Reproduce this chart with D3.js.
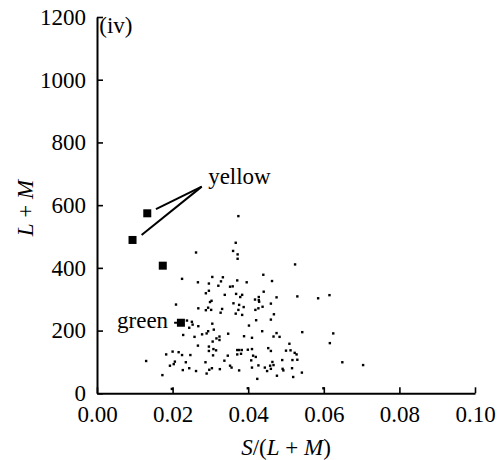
<!DOCTYPE html>
<html>
<head>
<meta charset="utf-8">
<script src="https://cdn.jsdelivr.net/npm/d3@7"></script>
<style>
  html, body { margin: 0; padding: 0; background: #fff; }
  svg { display: block; }
  svg text { font-family: "Liberation Serif", "Times New Roman", serif !important; fill: #000; }
</style>
</head>
<body>
<svg id="chart" width="500" height="460"></svg>
<script>
// ---- data ----
const xTicks = [0, 0.02, 0.04, 0.06, 0.08, 0.10];
const yTicks = [0, 200, 400, 600, 800, 1000, 1200];

// small dots: S/(L+M) and L+M
const dotSX = [
  0.0262,0.0225,0.0267,0.0296,0.0296,0.0288,0.0374,0.0367,0.0360,0.0372,0.0372,
  0.0440,0.0305,0.0333,0.0463,0.0371,0.0396,0.0328,0.0321,0.0352,0.0359,0.0441,
  0.0338,0.0368,0.0384,0.0379,0.0428,0.0418,0.0524,0.0475,0.0530,0.0585,0.0615,
  0.0209,0.0268,0.0288,0.0294,0.0238,0.0251,0.0253,0.0244,0.0268,0.0294,0.0228,
  0.0258,0.0278,0.0290,0.0267,0.0296,0.0296,0.0200,0.0183,0.0216,0.0225,0.0247,
  0.0130,0.0206,0.0235,0.0287,0.0193,0.0203,0.0227,0.0244,0.0262,0.0173,0.0290,0.0198,
  0.0303,0.0299,0.0361,0.0376,0.0428,0.0388,0.0438,0.0302,0.0331,0.0374,0.0419,
  0.0427,0.0327,0.0367,0.0384,0.0468,0.0421,0.0305,0.0402,0.0309,0.0347,0.0437,
  0.0324,0.0316,0.0389,0.0410,0.0467,0.0324,0.0306,0.0308,0.0315,0.0371,0.0376,
  0.0383,0.0399,0.0410,0.0453,0.0460,0.0371,0.0381,0.0307,0.0346,0.0413,0.0420,
  0.0408,0.0337,0.0464,0.0352,0.0356,0.0427,0.0444,0.0458,0.0467,0.0297,0.0304,
  0.0325,0.0376,0.0410,0.0450,0.0424,0.0399,
  0.0460,0.0460,0.0475,0.0483,0.0543,0.0625,0.0509,0.0616,0.0500,0.0512,0.0523,0.0528,0.0490,0.0517,0.0530,
  0.0491,0.0493,0.0460,0.0516,0.0542,0.0476,0.0519,0.0599,0.0649,0.0704,0.0429
];
const dotLM = [
  449,365,354,350,327,319,565,480,454,443,429,
  378,371,370,358,360,354,357,343,340,341,324,
  314,317,314,307,307,299,411,306,309,303,313,
  283,271,265,273,232,228,219,209,214,198,186,
  180,188,191,152,149,135,133,124,131,122,122,
  103,101,99,99,88,93,74,80,71,58,63,14,
  295,291,287,282,297,275,276,266,269,266,266,
  271,257,254,250,252,233,222,216,203,190,198,
  181,175,182,177,181,170,165,141,137,138,138,
  138,139,141,144,135,124,126,121,120,120,116,
  105,104,100,88,82,89,82,88,90,75,80,
  77,73,82,71,46,16,
  286,235,192,180,195,191,158,160,136,137,129,124,106,106,107,
  78,73,78,80,66,56,52,16,99,90,292
];

// large squares (fruit)
const fruitSX = [0.0133, 0.0094, 0.0174, 0.0222];
const fruitLM = [574, 489, 407, 225];

// annotations (data coordinates)
const yellowLabel = { text: "yellow", sx: 0.0294, lm: 668 };
const yellowLeaders = [
  { from: [0.0277, 659], to: [0.0156, 587] },
  { from: [0.0277, 659], to: [0.0118, 505] }
];
const greenLabel = { text: "green", sx: 0.0053, lm: 208 };
const greenLeader = { from: [0.0204, 225], to: [0.0213, 225] };
const panelLabel = { text: "(iv)", sx: 0.0006, lm: 1150 };

// ---- drawing ----
const svg = d3.select("#chart");
const x = d3.scaleLinear().domain([0, 0.10]).range([97, 475]);
const y = d3.scaleLinear().domain([0, 1200]).range([393.3, 17]);

const FS = 23;
const SERIF = '"Liberation Serif", "Times New Roman", serif';

// x axis
const gx = svg.append("g").attr("transform", `translate(0,${y(0)})`)
  .call(d3.axisBottom(x).tickValues(xTicks).tickFormat(d3.format(".2f"))
        .tickSize(-6).tickSizeOuter(0).tickPadding(12));
// y axis
const gy = svg.append("g").attr("transform", `translate(${x(0)},0)`)
  .call(d3.axisLeft(y).tickValues(yTicks).tickFormat(d3.format("d"))
        .tickSize(-6).tickSizeOuter(0).tickPadding(11));

[gx, gy].forEach(g => {
  g.attr("font-family", null).attr("font-size", null);
  g.select(".domain").attr("stroke", "#000").attr("stroke-width", 2);
  g.selectAll(".tick line").attr("stroke", "#000").attr("stroke-width", 1.6);
  g.selectAll(".tick text").style("font-size", FS + "px")
    .style("font-family", SERIF).attr("fill", "#000");
});

// axis titles
const xt = svg.append("text").attr("x", (x(0) + x(0.1)) / 2).attr("y", 455)
  .attr("text-anchor", "middle").style("font-size", FS + "px").style("font-family", SERIF);
xt.append("tspan").attr("font-style", "italic").text("S");
xt.append("tspan").text("/(");
xt.append("tspan").attr("font-style", "italic").text("L");
xt.append("tspan").text(" + ");
xt.append("tspan").attr("font-style", "italic").text("M");
xt.append("tspan").text(")");

const yt = svg.append("text").attr("transform", "translate(33,208) rotate(-90)")
  .attr("text-anchor", "middle").style("font-size", FS + "px").style("font-family", SERIF);
yt.append("tspan").attr("font-style", "italic").text("L");
yt.append("tspan").text(" + ");
yt.append("tspan").attr("font-style", "italic").text("M");

// small dots
const dots = dotSX.map((d, i) => ({ sx: d, lm: dotLM[i] }));
svg.append("g").selectAll("rect").data(dots).join("rect")
  .attr("x", d => x(d.sx) - 1.2).attr("y", d => y(d.lm) - 1.2)
  .attr("width", 2.4).attr("height", 2.4).attr("fill", "#000");

// fruit squares
const fruit = fruitSX.map((d, i) => ({ sx: d, lm: fruitLM[i] }));
svg.append("g").selectAll("rect").data(fruit).join("rect")
  .attr("x", d => x(d.sx) - 4).attr("y", d => y(d.lm) - 4)
  .attr("width", 8).attr("height", 8).attr("fill", "#000");

// annotations
svg.append("g").selectAll("line").data(yellowLeaders.concat([greenLeader])).join("line")
  .attr("x1", d => x(d.from[0])).attr("y1", d => y(d.from[1]))
  .attr("x2", d => x(d.to[0])).attr("y2", d => y(d.to[1]))
  .attr("stroke", "#000").attr("stroke-width", 2);

[yellowLabel, greenLabel, panelLabel].forEach(l => {
  svg.append("text").attr("x", x(l.sx)).attr("y", y(l.lm))
    .style("font-size", FS + "px").style("font-family", SERIF).text(l.text);
});
</script>
</body>
</html>
